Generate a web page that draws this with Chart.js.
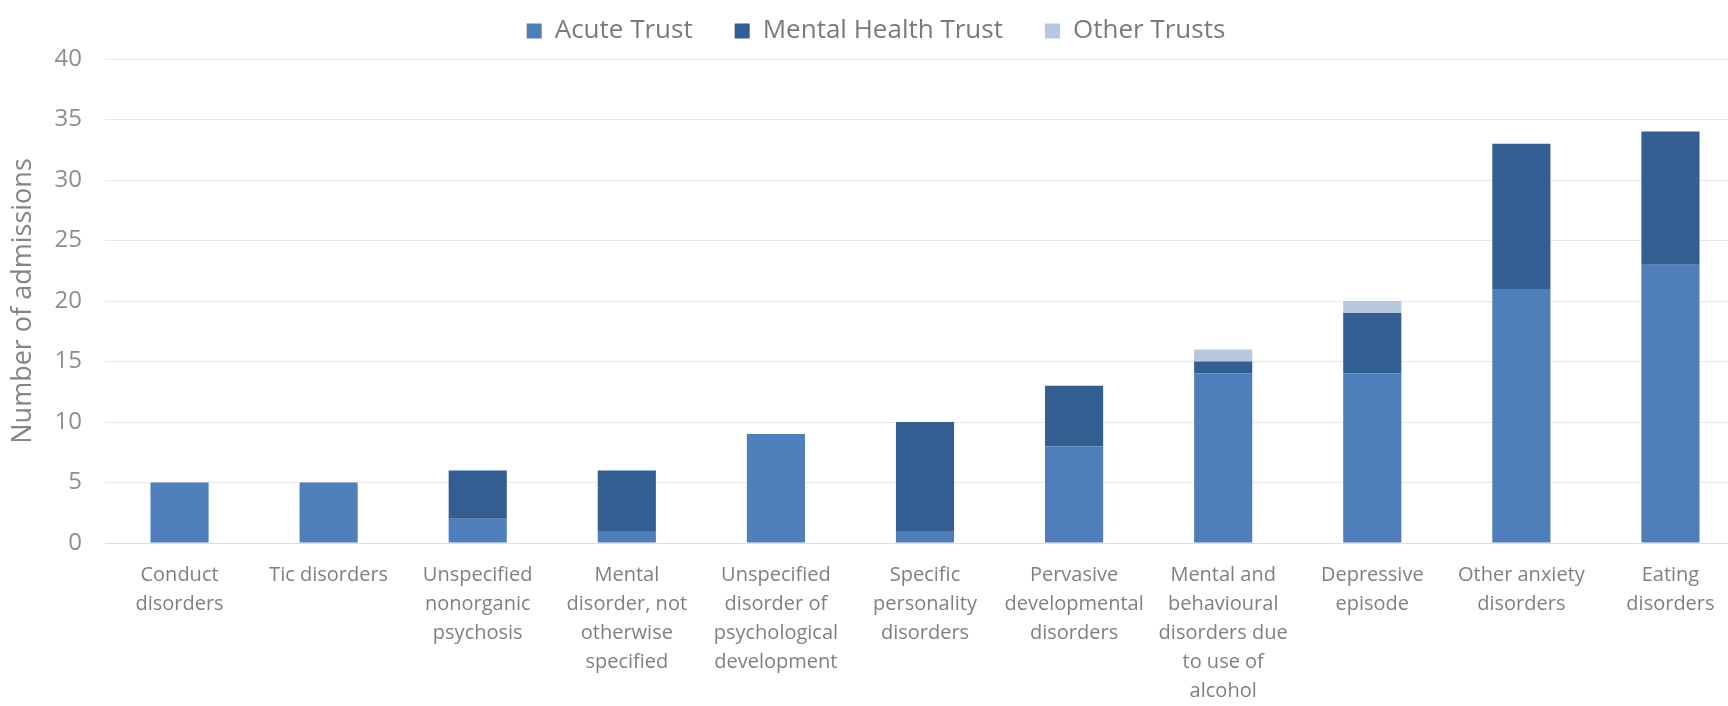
<!DOCTYPE html>
<html>
<head>
<meta charset="utf-8">
<script src="https://cdn.jsdelivr.net/npm/chart.js@4/dist/chart.umd.min.js"></script>
<style>
  html, body { margin: 0; padding: 0; background: #ffffff; overflow: hidden; }
  /* the original plot runs a little past the right edge of the picture */
  #wrap { width: 1745px; height: 706px; position: relative; }
</style>
</head>
<body>
<div id="wrap"><canvas id="admissionsChart"></canvas></div>
<script>
// Admissions by diagnosis and trust type

var categories = [
    ['Conduct', 'disorders'],
    ['Tic disorders'],
    ['Unspecified', 'nonorganic', 'psychosis'],
    ['Mental', 'disorder, not', 'otherwise', 'specified'],
    ['Unspecified', 'disorder of', 'psychological', 'development'],
    ['Specific', 'personality', 'disorders'],
    ['Pervasive', 'developmental', 'disorders'],
    ['Mental and', 'behavioural', 'disorders due', 'to use of', 'alcohol'],
    ['Depressive', 'episode'],
    ['Other anxiety', 'disorders'],
    ['Eating', 'disorders']
];

var acuteTrust = [5, 5, 2, 1, 9, 1, 8, 14, 14, 21, 23];
var mentalHealthTrust = [0, 0, 4, 5, 0, 9, 5, 1, 5, 12, 11];
var otherTrusts = [0, 0, 0, 0, 0, 0, 0, 1, 1, 0, 0];

var yTicks = [0, 5, 10, 15, 20, 25, 30, 35, 40];

var fontFamily = '"Open Sans", "DejaVu Sans", sans-serif';

// fixed legend height so the plot starts where the original one does
var legendHeight = {
    id: 'legendHeight',
    beforeInit: function (chart) {
        if (!chart.legend || chart.legend._fixed) return;
        var fit = chart.legend.fit;
        chart.legend.fit = function () {
            fit.call(this);
            this.height = 83;
        };
        chart.legend._fixed = true;
    }
};

function initChart() {
    var ctx = document.getElementById('admissionsChart');

    new Chart(ctx.getContext('2d'), {
        type: 'bar',
        data: {
            labels: categories,
            datasets: [{
                label: 'Acute Trust',
                data: acuteTrust,
                backgroundColor: '#4e7fbb'
            }, {
                label: 'Mental Health Trust',
                data: mentalHealthTrust,
                backgroundColor: '#335e91'
            }, {
                label: 'Other Trusts',
                data: otherTrusts,
                backgroundColor: '#b5c8e0'
            }]
        },
        plugins: [legendHeight],
        options: {
            responsive: true,
            maintainAspectRatio: false,
            animation: false,
            datasets: {
                bar: {
                    categoryPercentage: 1.0,
                    barPercentage: 0.39
                }
            },
            layout: {
                padding: { left: 7, right: 0, top: -24, bottom: 0 }
            },
            plugins: {
                legend: {
                    position: 'top',
                    labels: {
                        boxWidth: 15,
                        boxHeight: 15,
                        padding: 42,
                        color: '#7a7a7a',
                        font: { family: fontFamily, size: 26 }
                    }
                },
                tooltip: { enabled: false }
            },
            scales: {
                x: {
                    stacked: true,
                    afterFit: function (scale) { scale.height = 163; },
                    grid: { display: false },
                    border: { display: true, color: '#dedede' },
                    ticks: {
                        autoSkip: false,
                        maxRotation: 0,
                        minRotation: 0,
                        padding: 10,
                        color: '#808080',
                        font: { family: fontFamily, size: 20, lineHeight: 1.45 }
                    }
                },
                y: {
                    stacked: true,
                    min: 0,
                    max: 40,
                    afterFit: function (scale) { scale.width = 98; },
                    afterBuildTicks: function (axis) {
                        axis.ticks = yTicks.map(function (v) { return { value: v }; });
                    },
                    grid: { color: '#e9e9e9', drawTicks: false },
                    border: { display: false },
                    ticks: {
                        padding: 23,
                        color: '#8e8e8e',
                        font: { family: fontFamily, size: 24 }
                    },
                    title: {
                        display: true,
                        text: 'Number of admissions',
                        color: '#858585',
                        padding: { top: 0, bottom: 0 },
                        font: { family: fontFamily, size: 27 }
                    }
                }
            }
        }
    });
}

window.onload = initChart;
</script>
</body>
</html>
